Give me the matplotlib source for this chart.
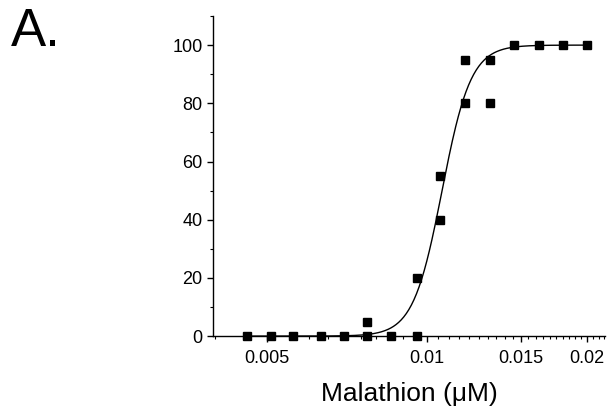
import matplotlib
matplotlib.use("Agg")
import matplotlib.pyplot as plt
from matplotlib.ticker import FixedLocator, NullFormatter, FixedFormatter, MultipleLocator
import numpy as np

plt.rcParams['font.family'] = ['Liberation Sans', 'DejaVu Sans']

# measured points (concentration in uM, response %)
conc = [0.00458, 0.00508, 0.00559, 0.00631, 0.00698, 0.0077, 0.0077, 0.00856,
        0.00956, 0.00956, 0.01058, 0.01058, 0.01179, 0.01179, 0.01311, 0.01311,
        0.01458, 0.0162, 0.0180, 0.0200]
resp = [0, 0, 0, 0, 0, 0, 5, 0,
        0, 20, 40, 55, 80, 95, 80, 95,
        100, 100, 100, 100]

# fitted Hill curve parameters
ec50 = 0.01067
hill_n = 16.0
top = 100.0

xticks = [0.005, 0.01, 0.015, 0.02]
xticklabels = ["0.005", "0.01", "0.015", "0.02"]

fig = plt.figure(figsize=(6.13, 4.17), dpi=100)
ax = fig.add_axes([0.3475, 0.194, 0.6395, 0.7676])

xc = np.geomspace(conc[0], conc[-1], 400)
yc = top / (1 + (ec50 / xc) ** hill_n)
ax.plot(xc, yc, color="black", lw=1.0, zorder=2)
ax.plot(conc, resp, "s", color="black", ms=5.8, zorder=3, clip_on=False)

ax.set_xscale("log")
ax.set_xlim(0.00396, 0.0216)
ax.set_ylim(0, 110)

ax.xaxis.set_major_locator(FixedLocator(xticks))
ax.xaxis.set_major_formatter(FixedFormatter(xticklabels))
minors = np.arange(0.0040, 0.0216, 0.0005)
ax.xaxis.set_minor_locator(FixedLocator(minors))
ax.xaxis.set_minor_formatter(NullFormatter())

ax.yaxis.set_major_locator(MultipleLocator(20))
ax.yaxis.set_minor_locator(MultipleLocator(10))

for s in ["top", "right"]:
    ax.spines[s].set_visible(False)
for s in ["left", "bottom"]:
    ax.spines[s].set_linewidth(1.0)

ax.tick_params(which="major", direction="out", length=4.5, width=1.0, labelsize=13)
ax.tick_params(axis="x", which="major", pad=5.5)
ax.tick_params(axis="y", which="major", pad=3.0)
ax.tick_params(which="minor", direction="out", length=2.2, width=0.8)

ax.set_xlabel("Malathion (\u03bcM)", fontsize=19, labelpad=11)

fig.text(0.018, 0.89, "A.", fontsize=38, ha="left", va="baseline")

fig.savefig("out.png", dpi=100)
